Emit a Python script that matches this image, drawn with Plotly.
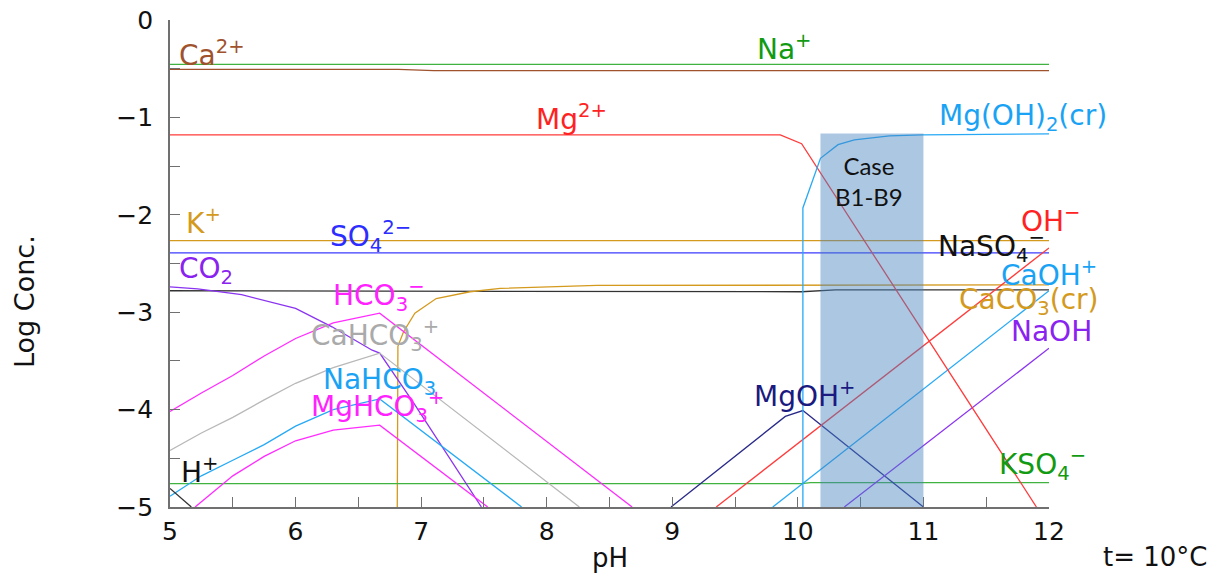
import plotly.graph_objects as go

# ---------------- data (pH vs log concentration) ----------------
na_ph = [5, 12];                 na_log = [-0.455, -0.455]
ca_ph = [5, 6.82, 7.1, 12];      ca_log = [-0.506, -0.506, -0.52, -0.52]
mg_ph = [5, 9.86, 10.03, 11.9];  mg_log = [-1.18, -1.18, -1.27, -5.0]
mgoh2_ph = [10.04, 10.04, 10.18, 10.32, 10.45, 10.73, 10.99, 12]
mgoh2_log = [-5.0, -1.93, -1.42, -1.28, -1.23, -1.19, -1.18, -1.17]
k_ph = [5, 12];                  k_log = [-2.265, -2.265]
so4_ph = [5, 12];                so4_log = [-2.39, -2.39]
naso4_ph = [5, 10.03, 10.3, 12]; naso4_log = [-2.78, -2.79, -2.77, -2.77]
co2_ph = [5, 5.22, 5.57, 6.0, 6.29, 6.61, 6.67, 6.82, 6.94, 7.48]
co2_log = [-2.74, -2.76, -2.82, -2.96, -3.15, -3.39, -3.42, -3.70, -3.93, -5.0]
hco3_ph = [5, 5.25, 5.5, 5.75, 6.0, 6.3, 6.67, 8.68]
hco3_log = [-4.02, -3.83, -3.65, -3.45, -3.27, -3.11, -3.01, -5.0]
cahco3_ph = [5, 5.25, 5.5, 5.75, 6.0, 6.3, 6.67, 8.26]
cahco3_log = [-4.42, -4.24, -4.08, -3.90, -3.73, -3.57, -3.42, -5.0]
nahco3_ph = [5, 5.25, 5.5, 5.75, 6.0, 6.3, 6.67, 7.8]
nahco3_log = [-4.89, -4.68, -4.52, -4.36, -4.17, -4.00, -3.89, -5.0]
mghco3_ph = [5.2, 5.5, 5.75, 6.0, 6.3, 6.67, 7.53]
mghco3_log = [-5.0, -4.68, -4.48, -4.32, -4.21, -4.16, -5.0]
h_ph = [5, 5.17];                h_log = [-4.81, -5.0]
kso4_ph = [5, 10.03, 10.1, 12];  kso4_log = [-4.76, -4.76, -4.75, -4.75]
caco3_ph = [6.81, 6.815, 6.86, 6.95, 7.12, 7.39, 7.63, 8.4, 12]
caco3_log = [-5.0, -3.35, -3.2, -3.01, -2.86, -2.79, -2.755, -2.725, -2.72]
oh_ph = [9.35, 12];              oh_log = [-5.0, -2.34]
caoh_ph = [9.8, 12];             caoh_log = [-5.0, -2.78]
naoh_ph = [10.37, 12];           naoh_log = [-5.0, -3.37]
mgoh_ph = [8.99, 9.9, 10.04, 11.0]
mgoh_log = [-5.0, -4.07, -4.01, -5.0]

case_ph = [10.18, 11.0]
case_top = -1.165

x_ticks = [5, 6, 7, 8, 9, 10, 11, 12]
y_ticks = [0, -1, -2, -3, -4, -5]

# ---------------- styles ----------------
C_GREEN = "#3fb23f"
C_BROWN = "#a0522d"
C_RED = "#ff3b3b"
C_LBLUE = "#27a9f5"
C_GOLD = "#d49a1e"
C_BLUE = "#3b3bff"
C_PURPLE = "#8a33f0"
C_MAGENTA = "#ff2bff"
C_GRAY = "#b8b8b8"
C_BLACK = "#333333"
C_NAVY = "#2a2a8a"

series = [
    (na_ph, na_log, C_GREEN),
    (ca_ph, ca_log, C_BROWN),
    (k_ph, k_log, C_GOLD),
    (so4_ph, so4_log, C_BLUE),
    (naso4_ph, naso4_log, C_BLACK),
    (caco3_ph, caco3_log, C_GOLD),
    (kso4_ph, kso4_log, C_GREEN),
    (co2_ph, co2_log, C_PURPLE),
    (hco3_ph, hco3_log, C_MAGENTA),
    (cahco3_ph, cahco3_log, C_GRAY),
    (nahco3_ph, nahco3_log, C_LBLUE),
    (mghco3_ph, mghco3_log, C_MAGENTA),
    (h_ph, h_log, C_BLACK),
    (mgoh_ph, mgoh_log, C_NAVY),
    (oh_ph, oh_log, C_RED),
    (caoh_ph, caoh_log, C_LBLUE),
    (naoh_ph, naoh_log, C_PURPLE),
    (mg_ph, mg_log, C_RED),
    (mgoh2_ph, mgoh2_log, C_LBLUE),
]

fig = go.Figure()
for xs, ys, col in series:
    fig.add_trace(go.Scatter(x=xs, y=ys, mode="lines",
                             line=dict(color=col, width=1.3),
                             hoverinfo="skip", showlegend=False))

# shaded case region
fig.add_shape(type="rect", xref="x", yref="y",
              x0=case_ph[0], x1=case_ph[1], y0=-5, y1=case_top,
              fillcolor="rgba(70,130,190,0.45)", line=dict(width=0),
              layer="above")

# species labels: (text, color, x, y)
labels = [
    ("Ca<sup>2+</sup>", "#a0522d", 5.064, -0.34),
    ("Na<sup>+</sup>", "#129a12", 9.667, -0.28),
    ("Mg<sup>2+</sup>", "#ff2222", 7.907, -1.0),
    ("Mg(OH)<sub>2</sub>(cr)", "#1aa3f5", 11.115, -1.0),
    ("K<sup>+</sup>", "#d49a1e", 5.119, -2.07),
    ("SO<sub>4</sub><sup>2−</sup>", "#2d2dff", 6.27, -2.22),
    ("CO<sub>2</sub>", "#8a22f0", 5.064, -2.57),
    ("HCO<sub>3</sub><sup>−</sup>", "#ff22ff", 6.29, -2.83),
    ("CaHCO<sub>3</sub><sup>+</sup>", "#aaaaaa", 6.115, -3.24),
    ("NaHCO<sub>3</sub>", "#1aa3f5", 6.21, -3.71),
    ("MgHCO<sub>3</sub><sup>+</sup>", "#ff22ff", 6.115, -3.97),
    ("H<sup>+</sup>", "#111111", 5.08, -4.63),
    ("MgOH<sup>+</sup>", "#1a1a80", 9.643, -3.84),
    ("OH<sup>−</sup>", "#ff2222", 11.769, -2.05),
    ("NaSO<sub>4</sub><sup>−</sup>", "#111111", 11.108, -2.33),
    ("CaOH<sup>+</sup>", "#1aa3f5", 11.61, -2.6),
    ("CaCO<sub>3</sub>(cr)", "#d49a1e", 11.275, -2.885),
    ("NaOH", "#8a22f0", 11.69, -3.2),
    ("KSO<sub>4</sub><sup>−</sup>", "#129a12", 11.594, -4.56),
]
for txt, col, lx, ly in labels:
    fig.add_annotation(x=lx, y=ly, xref="x", yref="y", text=txt,
                       showarrow=False, xanchor="left", yanchor="middle",
                       borderpad=0,
                       font=dict(family="DejaVu Sans", size=28, color=col))

fig.add_annotation(x=10.566, y=-1.653, xref="x", yref="y",
                   text="Case<br>B1-B9", showarrow=False,
                   xanchor="center", yanchor="middle",
                   font=dict(family="Lato", size=24, color="#111111"))

# axis titles and temperature note as paper annotations
fig.add_annotation(x=-0.165, y=0.423, xref="paper", yref="paper",
                   text="Log Conc.", showarrow=False, textangle=-90,
                   xanchor="center", yanchor="middle",
                   font=dict(family="DejaVu Sans", size=27, color="#111111"))
fig.add_annotation(x=0.5, y=-0.105, xref="paper", yref="paper",
                   text="pH", showarrow=False,
                   xanchor="center", yanchor="middle",
                   font=dict(family="DejaVu Sans", size=26, color="#111111"))
fig.add_annotation(x=1.181, y=-0.103, xref="paper", yref="paper",
                   text="t= 10°C", showarrow=False, borderpad=0,
                   xanchor="right", yanchor="middle",
                   font=dict(family="DejaVu Sans", size=26, color="#111111"))

axis_common = dict(
    showgrid=False, zeroline=False, showline=True,
    linecolor="#707070", linewidth=1.6,
    ticks="inside", ticklen=10, tickwidth=1.4, tickcolor="#707070",
    tickfont=dict(family="DejaVu Sans", size=25, color="#111111"),
    minor=dict(dtick=0.5, ticks="inside", ticklen=10, tickwidth=1.4,
               tickcolor="#707070", showgrid=False),
    automargin=False,
)

fig.update_xaxes(range=[5, 12], tickvals=x_ticks, ticklabelstandoff=1,
                 **axis_common)
fig.update_yaxes(range=[-5, 0], tickvals=y_ticks, ticklabelstandoff=10,
                 **axis_common)

fig.update_layout(
    template="none",
    width=1221, height=578,
    margin=dict(l=170, r=172, t=20, b=71),
    paper_bgcolor="white", plot_bgcolor="white",
    showlegend=False,
)

fig.write_html("out.html")
